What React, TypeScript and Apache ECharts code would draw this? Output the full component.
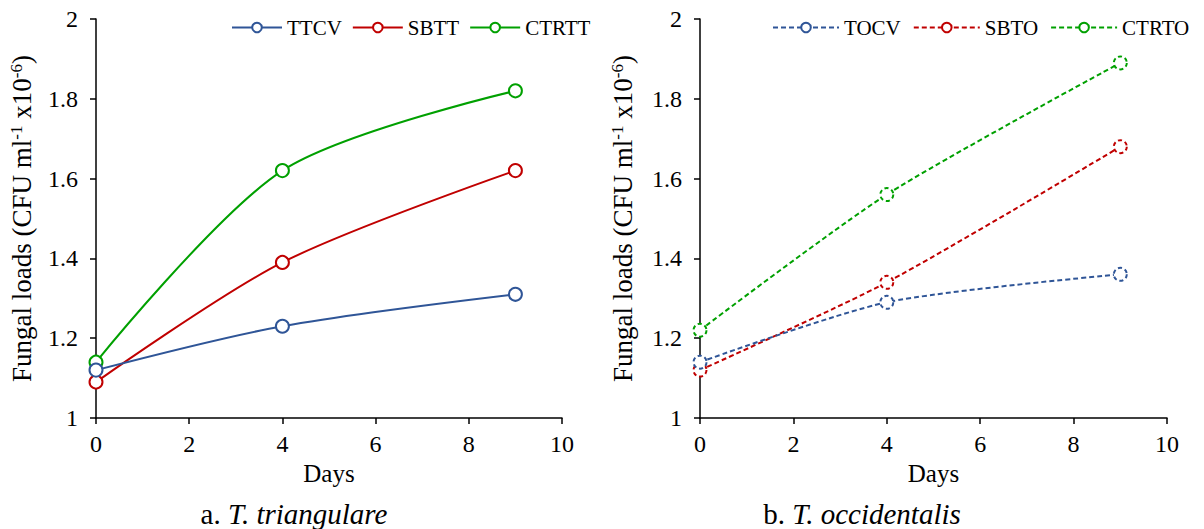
import React, { useEffect, useRef } from "react";
import * as echarts from "echarts";

const days = [0, 4, 9];
const leftNames = ["TTCV", "SBTT", "CTRTT"];
const ttcv = [1.12, 1.23, 1.31];
const sbtt = [1.09, 1.39, 1.62];
const ctrtt = [1.14, 1.62, 1.82];
const rightNames = ["TOCV", "SBTO", "CTRTO"];
const tocv = [1.14, 1.29, 1.36];
const sbto = [1.12, 1.34, 1.68];
const ctrto = [1.22, 1.56, 1.89];
const xRange = { min: 0, max: 10, interval: 2 };
const yRange = { min: 1, max: 2, interval: 0.2 };
const colors = ["#2F5597", "#C00000", "#00A000"];
const captions = [
  { prefix: "a. ", italic: "T. triangulare" },
  { prefix: "b. ", italic: "T. occidentalis" },
];

const FONT = "Liberation Serif";

export default function App() {
  const ref = useRef<HTMLDivElement>(null);
  useEffect(() => {
    if (!ref.current) return;
    const chart = echarts.init(ref.current, undefined, { renderer: "svg" });
    const grids = [
      { left: 96, right: 1204 - 562, top: 19, bottom: 529 - 418 },
      { left: 700, right: 1204 - 1167, top: 19, bottom: 529 - 418 },
    ];
    const axisLine = { show: true, onZero: false, lineStyle: { color: "#000", width: 1.5 } };
    const axisTick = { show: true, inside: false, length: 6, lineStyle: { color: "#000", width: 1.5 } };
    const xAxes = grids.map((_, i) => ({
      type: "value",
      gridIndex: i,
      ...xRange,
      axisLine,
      axisTick,
      splitLine: { show: false },
      axisLabel: { color: "#000", fontFamily: FONT, fontSize: 24, margin: 14 },
      name: "Days",
      nameLocation: "middle",
      nameGap: 41,
      nameTextStyle: { color: "#000", fontFamily: FONT, fontSize: 25 },
    }));
    const yAxes = grids.map((_, i) => ({
      type: "value",
      gridIndex: i,
      ...yRange,
      axisLine,
      axisTick,
      splitLine: { show: false },
      axisLabel: {
        color: "#000",
        fontFamily: FONT,
        fontSize: 24,
        margin: 18,
        formatter: (v: number) => String(+v.toFixed(1)),
      },
      name: "Fungal loads (CFU ml{sup|-1} x10{sup|-6})",
      nameLocation: "middle",
      nameGap: i === 0 ? 61 : 64,
      nameRotate: 90,
      nameTextStyle: {
        color: "#000",
        fontFamily: FONT,
        fontSize: 27,
        rich: {
          sup: { fontSize: 17, fontFamily: FONT, color: "#000", verticalAlign: "top", lineHeight: 27 },
        },
      },
    }));
    const mk = (name: string, vals: number[], idx: number, ci: number, dashed: boolean) => ({
      name,
      type: "line",
      xAxisIndex: idx,
      yAxisIndex: idx,
      data: days.map((d, k) => [d, vals[k]]),
      smooth: dashed ? 0.25 : 0.3,
      color: colors[ci],
      symbol: "circle",
      symbolSize: 13,
      itemStyle: {
        color: "#fff",
        borderColor: colors[ci],
        borderWidth: 2,
        borderType: dashed ? [4, 3] : "solid",
      },
      lineStyle: { color: colors[ci], width: 2, type: dashed ? [5, 3] : "solid" },
      z: 3 - ci + 2,
    });
    const series = [
      mk(leftNames[0], ttcv, 0, 0, false),
      mk(leftNames[1], sbtt, 0, 1, false),
      mk(leftNames[2], ctrtt, 0, 2, false),
      mk(rightNames[0], tocv, 1, 0, true),
      mk(rightNames[1], sbto, 1, 1, true),
      mk(rightNames[2], ctrto, 1, 2, true),
    ];
    const legendText = { color: "#000", fontFamily: FONT, fontSize: 21 };
    chart.setOption({
      animation: false,
      backgroundColor: "#fff",
      grid: grids,
      xAxis: xAxes,
      yAxis: yAxes,
      legend: [
        {
          top: 12,
          left: 226,
          itemWidth: 50,
          itemHeight: 12,
          itemGap: 10,
          textStyle: legendText,
          data: leftNames,
        },
        {
          top: 12,
          left: 767,
          itemWidth: 66,
          itemHeight: 12,
          itemGap: 12,
          textStyle: legendText,
          data: rightNames,
        },
      ],
      series,
      graphic: captions.map((c, i) => ({
        type: "text",
        x: i === 0 ? 294 : 862,
        y: 514,
        style: {
          text: `{n|${c.prefix}}{it|${c.italic}}`,
          align: "center",
          verticalAlign: "middle",
          rich: {
            n: { fontFamily: FONT, fontSize: 29, fill: "#000" },
            it: { fontFamily: FONT, fontSize: 29, fontStyle: "italic", fill: "#000" },
          },
        },
      })),
    });
    return () => chart.dispose();
  }, []);
  return (
    <div
      ref={ref}
      style={{ position: "absolute", left: 0, top: 0, width: 1204, height: 529, background: "#fff" }}
    />
  );
}
